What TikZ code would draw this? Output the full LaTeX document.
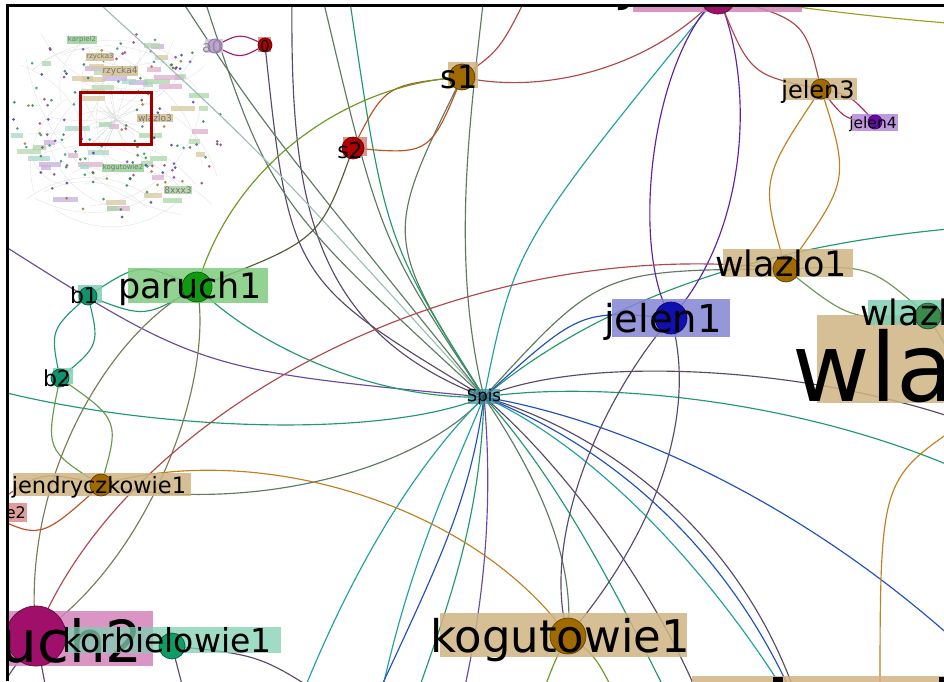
\documentclass[tikz,border=0pt]{standalone}
\usepackage{fontspec}
\setmainfont{DejaVu Sans}

% Cores dos vertices e caixas
\definecolor{tanbox}{HTML}{CFB482}
\definecolor{brownnode}{HTML}{A06A00}
\definecolor{pinkbox}{HTML}{D483BC}
\definecolor{magnode}{HTML}{A0106A}
\definecolor{greenbox}{HTML}{80CC80}
\definecolor{greennode}{HTML}{109A10}
\definecolor{tealbox}{HTML}{80CFB2}
\definecolor{tealnode}{HTML}{10926E}
\definecolor{bluebox}{HTML}{8484D4}
\definecolor{bluenode}{HTML}{1010B0}
\definecolor{lilabox}{HTML}{B488D8}
\definecolor{lilanode}{HTML}{6A0AAA}
\definecolor{redbox}{HTML}{D88080}
\definecolor{rednode}{HTML}{B00000}
\definecolor{paleviolet}{HTML}{D8C0E8}
\definecolor{violetnode}{HTML}{C0A0D8}
\definecolor{wgreennode}{HTML}{3A8A4A}
\definecolor{spisbox}{HTML}{3A8AA0}
% Cores das arestas
\definecolor{eteal}{HTML}{20A0A0}
\definecolor{egreen}{HTML}{209A6A}
\definecolor{egray}{HTML}{5E7A62}
\definecolor{eltgray}{HTML}{9CC0B8}
\definecolor{eplum}{HTML}{5A4A6A}
\definecolor{eviolet}{HTML}{6A4AA0}
\definecolor{eblue}{HTML}{2050C0}
\definecolor{ered}{HTML}{B04848}
\definecolor{eorange}{HTML}{C08020}
\definecolor{eolive}{HTML}{6A9A20}
\definecolor{erust}{HTML}{C05020}
\definecolor{emag}{HTML}{A0206E}
\definecolor{epurple}{HTML}{6020A0}
\definecolor{edkolive}{HTML}{5A5A30}
\definecolor{eyellow}{HTML}{A0A020}
\definecolor{esage}{HTML}{6A9A50}
% Minimapa
\definecolor{mini0}{HTML}{1A7A4A}
\definecolor{mini1}{HTML}{6A3A9A}
\definecolor{mini2}{HTML}{A07020}
\definecolor{mini3}{HTML}{A0306A}
\definecolor{mini4}{HTML}{30309A}
\definecolor{mini5}{HTML}{209080}
\definecolor{mini6}{HTML}{1A8A3A}
\definecolor{minib0}{HTML}{D8C8A0}
\definecolor{minib1}{HTML}{A8D8A8}
\definecolor{minib2}{HTML}{E0B0D0}
\definecolor{minib3}{HTML}{C8B0E0}
\definecolor{minib4}{HTML}{A8D8C8}
\definecolor{minib5}{HTML}{B8D8B0}

\begin{document}
\begin{tikzpicture}[x=1pt, y=-1pt,
    aresta/.style={line width=1.15pt},
    vert/.style={circle, inner sep=0pt, line width=0.7pt},
    rot/.style={inner sep=0pt, anchor=base},
    caixa/.style={fill opacity=0.85},
    mini/.style={inner sep=0.6pt, text=black!55, font=\fontsize{7}{7}\selectfont}]

    \useasboundingbox (0,0) rectangle (944,681);
    \fill[white] (0,0) rectangle (944,681);

    % Coordenadas dos vertices
    \coordinate (jelentwo) at (718,-4);
    \coordinate (sone) at (462,77);
    \coordinate (stwo) at (353,148);
    \coordinate (azero) at (215,46);
    \coordinate (zero) at (265,45);
    \coordinate (jelenthree) at (821,89);
    \coordinate (jelenfour) at (875,122);
    \coordinate (wlazloone) at (786,269);
    \coordinate (jelenone) at (671,318);
    \coordinate (wlazlotwo) at (928,316);
    \coordinate (spis) at (484,397);
    \coordinate (paruchone) at (197,287);
    \coordinate (bone) at (88,296);
    \coordinate (btwo) at (60,378);
    \coordinate (jendone) at (101,485);
    \coordinate (etwo) at (-15,512);
    \coordinate (paruchtwo) at (36,636);
    \coordinate (korbone) at (172,646);
    \coordinate (kogone) at (568,636);
    \coordinate (bottomnode) at (805,725);

    % Pontas soltas (fora da janela)
    \coordinate (topa) at (90,-5);
    \coordinate (topb) at (178,-5);
    \coordinate (topc) at (203,-5);
    \coordinate (topd) at (292,-5);
    \coordinate (tope) at (322,-5);
    \coordinate (topf) at (349,-5);
    \coordinate (topg) at (484,-5);
    \coordinate (toph) at (530,-10);
    \coordinate (lefta) at (-5,240);
    \coordinate (leftb) at (-5,390);
    \coordinate (righta) at (960,228);
    \coordinate (rightb) at (960,420);
    \coordinate (rightc) at (960,470);
    \coordinate (rightd) at (960,645);
    \coordinate (righte) at (960,370);
    \coordinate (rightf) at (960,24);
    \coordinate (rightg) at (960,425);
    \coordinate (bota) at (300,700);
    \coordinate (botb) at (380,700);
    \coordinate (botc) at (375,700);
    \coordinate (botd) at (415,700);
    \coordinate (bote) at (462,700);
    \coordinate (botf) at (670,700);
    \coordinate (botg) at (700,700);
    \coordinate (both) at (880,700);
    \coordinate (boti) at (540,700);
    \coordinate (botj) at (618,700);
    \coordinate (botk) at (186,700);
    \coordinate (botl) at (330,700);
    \coordinate (botm) at (48,700);
    \coordinate (botn) at (-5,695);

    \begin{scope}
    \clip (8,6) rectangle (944,681);

    % Minimapa
    \pgfmathsetseed{7}
    \foreach \i in {1,...,34} {
        \pgfmathsetmacro\xa{20+rnd*200}
        \pgfmathsetmacro\ya{30+rnd*185}
        \pgfmathsetmacro\xb{20+rnd*200}
        \pgfmathsetmacro\yb{30+rnd*185}
        \draw[gray!22, line width=0.4pt] (\xa,\ya) to[bend left=35] (\xb,\yb);
    }
    \foreach \i in {1,...,26} {
        \pgfmathsetmacro\ang{rnd*360}
        \pgfmathsetmacro\len{12+rnd*28}
        \draw[gray!30, line width=0.3pt] (116,120) -- ++(\ang:\len);
    }
    \foreach \i in {1,...,55} {
        \pgfmathsetmacro\ang{rnd*360}
        \pgfmathsetmacro\rr{sqrt(rnd)}
        \pgfmathsetmacro\larg{8+rnd*18}
        \pgfmathtruncatemacro\cor{mod(\i,6)}
        \fill[minib\cor, fill opacity=0.75] ({108+98*\rr*cos(\ang)},{124+90*\rr*sin(\ang)}) rectangle ++(\larg,5);
    }
    \foreach \i in {1,...,150} {
        \pgfmathsetmacro\ang{rnd*360}
        \pgfmathsetmacro\rr{sqrt(rnd)}
        \pgfmathtruncatemacro\cor{mod(\i,7)}
        \fill[mini\cor, fill opacity=0.8] ({118+108*\rr*cos(\ang)},{122+98*\rr*sin(\ang)}) circle[radius=1.5pt];
    }
    \node[mini, fill=minib1] (mkarpiel) at (82,40) {karpiel2};
    \node[mini, fill=minib0] (mrzyckathree) at (100,57) {rzycka3};
    \node[mini, fill=minib0, font=\fontsize{9}{9}\selectfont] (mrzyckafour) at (120,71) {rzycka4};
    \node[mini, fill=minib0, font=\fontsize{9}{9}\selectfont] (mwlazlo) at (155,118) {wlazlo3};
    \node[mini, fill=minib1] (mkogut) at (123,168) {kogutowie2};
    \node[mini, fill=minib5, font=\fontsize{9}{9}\selectfont] (mxxx) at (178,190) {8xxx3};
    \draw[rednode!90!black, line width=3pt] (80,92) rectangle (151,144);

    % Arestas do Spis
    \draw[aresta, eteal] (spis) .. controls (515,245) .. (jelentwo);
    \draw[aresta, egray] (sone) .. controls (383,237) .. (spis);
    \draw[aresta, egray] (topg) .. controls (470,120) and (450,260) .. (spis);
    \draw[aresta, eplum] (zero) .. controls (290,280) .. (spis);
    \draw[aresta, eplum] (topd) .. controls (290,200) and (310,330) .. (spis);
    \draw[aresta, egray] (topc) .. controls (270,200) .. (spis);
    \draw[aresta, eltgray] (topa) .. controls (260,150) .. (spis);
    \draw[aresta, egray] (topb) .. controls (260,120) .. (spis);
    \draw[aresta, egray] (tope) .. controls (380,240) .. (spis);
    \draw[aresta, egreen] (topf) .. controls (385,240) .. (spis);
    \draw[aresta, eviolet] (lefta) .. controls (200,370) .. (spis);
    \draw[aresta, egreen] (leftb) .. controls (150,430) and (380,440) .. (spis);
    \draw[aresta, egreen] (paruchone) .. controls (260,350) and (380,400) .. (spis);
    \draw[aresta, egray] (jendone) .. controls (250,515) and (420,470) .. (spis);
    \draw[aresta, egreen] (spis) .. controls (600,300) and (760,245) .. (righta);
    \draw[aresta, egray] (spis) .. controls (600,270) .. (wlazloone);
    \draw[aresta, eblue] (spis) .. controls (580,310) .. (jelenone);
    \draw[aresta, eplum] (spis) .. controls (580,355) and (800,365) .. (rightb);
    \draw[aresta, egreen] (spis) .. controls (600,380) and (800,400) .. (rightc);
    \draw[aresta, eblue] (spis) .. controls (620,420) and (800,500) .. (rightd);
    \draw[aresta, eteal] (spis) .. controls (400,480) and (340,600) .. (bota);
    \draw[aresta, eteal] (spis) .. controls (450,480) and (410,560) .. (botb);
    \draw[aresta, eblue] (spis) .. controls (470,500) and (440,560) .. (botc);
    \draw[aresta, egreen] (spis) .. controls (480,520) and (450,600) .. (botd);
    \draw[aresta, eviolet] (spis) .. controls (495,520) and (480,620) .. (bote);
    \draw[aresta, egray] (spis) .. controls (540,480) and (575,560) .. (kogone);
    \draw[aresta, egreen] (spis) .. controls (560,480) and (620,600) .. (botf);
    \draw[aresta, eplum] (spis) .. controls (570,470) and (660,600) .. (botg);
    \draw[aresta, eteal] (spis) .. controls (600,450) and (720,580) .. (bottomnode);
    \draw[aresta, eblue] (spis) .. controls (620,450) and (740,560) .. (bottomnode);
    \draw[aresta, eplum] (spis) .. controls (630,440) and (760,560) .. (bottomnode);

    % Arestas jelen / wlazlo
    \draw[aresta, epurple] (jelentwo) .. controls (650,60) and (630,250) .. (jelenone);
    \draw[aresta, epurple] (jelentwo) .. controls (755,80) and (750,230) .. (jelenone);
    \draw[aresta, ered] (jelentwo) .. controls (750,75) .. (jelenthree);
    \draw[aresta, ered] (jelentwo) .. controls (805,20) .. (jelenthree);
    \draw[aresta, emag!60!ered] (jelenthree) .. controls (850,95) .. (jelenfour);
    \draw[aresta, emag!60!ered] (jelenthree) .. controls (845,120) .. (jelenfour);
    \draw[aresta, eorange] (jelenthree) .. controls (760,180) .. (wlazloone);
    \draw[aresta, eorange] (jelenthree) .. controls (850,180) .. (wlazloone);
    \draw[aresta, esage] (wlazloone) .. controls (870,265) .. (wlazlotwo);
    \draw[aresta, esage] (wlazloone) .. controls (850,320) .. (wlazlotwo);
    \draw[aresta, esage] (wlazlotwo) -- (righte);
    \draw[aresta, eplum] (jelenone) .. controls (600,400) and (540,540) .. (kogone);
    \draw[aresta, eplum] (jelenone) .. controls (700,420) and (650,540) .. (kogone);
    \draw[aresta, eyellow] (jelentwo) .. controls (800,8) and (880,18) .. (rightf);
    \draw[aresta, eorange] (rightg) .. controls (880,480) .. (both);

    % Arestas s1 / s2 / a0
    \draw[aresta, erust] (sone) .. controls (385,85) .. (stwo);
    \draw[aresta, erust] (sone) .. controls (430,155) .. (stwo);
    \draw[aresta, eolive] (sone) .. controls (340,85) and (230,170) .. (paruchone);
    \draw[aresta, edkolive] (stwo) .. controls (320,240) .. (paruchone);
    \draw[aresta, ered] (sone) .. controls (540,95) and (650,70) .. (jelentwo);
    \draw[aresta, ered] (sone) .. controls (500,50) .. (toph);
    \draw[aresta, emag] (azero) .. controls (240,33) .. (zero);
    \draw[aresta, emag] (azero) .. controls (240,59) .. (zero);

    % Arestas paruch / b / jendryczkowie
    \draw[aresta, egreen] (paruchone) .. controls (140,262) .. (bone);
    \draw[aresta, egreen] (paruchone) .. controls (145,318) .. (bone);
    \draw[aresta, egreen] (bone) .. controls (50,330) .. (btwo);
    \draw[aresta, egreen] (bone) .. controls (100,345) .. (btwo);
    \draw[aresta, esage] (btwo) .. controls (45,450) .. (jendone);
    \draw[aresta, esage] (btwo) .. controls (120,420) .. (jendone);
    \draw[aresta, edkolive!80] (paruchone) .. controls (110,330) and (20,480) .. (paruchtwo);
    \draw[aresta, edkolive!80] (paruchone) .. controls (215,380) and (150,560) .. (paruchtwo);
    \draw[aresta, erust] (jendone) .. controls (40,470) .. (etwo);
    \draw[aresta, erust] (jendone) .. controls (40,540) .. (etwo);
    \draw[aresta, eorange] (jendone) .. controls (250,440) and (470,500) .. (kogone);
    \draw[aresta, ered] (paruchtwo) .. controls (120,420) and (450,230) .. (wlazloone);

    % Arestas do rodape
    \draw[aresta, eolive] (kogone) .. controls (555,660) .. (boti);
    \draw[aresta, eolive] (kogone) .. controls (595,655) .. (botj);
    \draw[aresta, eplum] (korbone) -- (botk);
    \draw[aresta, eplum] (korbone) .. controls (260,655) .. (botl);
    \draw[aresta, eplum] (paruchtwo) -- (botm);
    \draw[aresta, eplum] (paruchtwo) -- (botn);

    % Vertices com rotulos
    \fill[pinkbox, caixa] (633,-20) rectangle (802,12);
    \node[vert, minimum size=36pt, fill=magnode, draw=magnode!60!black] (jelentwov) at (jelentwo) {};
    \node[rot, font=\fontsize{63}{63}\selectfont] (jelentwol) at (716,-3) {jelen2};

    \fill[tanbox, caixa] (448,62) rectangle (478,88);
    \node[vert, minimum size=26pt, fill=brownnode, draw=brownnode!60!black] (sonev) at (sone) {};
    \node[rot, font=\fontsize{32}{32}\selectfont] (sonel) at (459,88) {s1};

    \fill[redbox, caixa] (343,137) rectangle (367,156);
    \node[vert, minimum size=22pt, fill=rednode, draw=rednode!60!black] (stwov) at (stwo) {};
    \node[rot, font=\fontsize{22}{22}\selectfont] (stwol) at (350,158) {s2};

    \fill[paleviolet, caixa] (205,39) rectangle (223,53);
    \node[vert, minimum size=14pt, fill=violetnode, draw=violetnode!70!black] (azerov) at (azero) {};
    \node[rot, text=black!45, font=\fontsize{16}{16}\selectfont] (azerol) at (212,52) {a0};

    \fill[redbox, caixa] (258,37) rectangle (271,52);
    \node[vert, minimum size=14pt, fill=rednode, draw=rednode!60!black] (zerov) at (zero) {};
    \node[rot, font=\fontsize{15}{15}\selectfont] (zerol) at (265,51) {0};

    \fill[tanbox, caixa] (783,78) rectangle (857,100);
    \node[vert, minimum size=20pt, fill=brownnode, draw=brownnode!60!black] (jelenthreev) at (jelenthree) {};
    \node[rot, font=\fontsize{24}{24}\selectfont] (jelenthreel) at (818,98) {jelen3};

    \fill[lilabox, caixa] (852,114) rectangle (898,131);
    \node[vert, minimum size=14pt, fill=lilanode, draw=lilanode!60!black] (jelenfourv) at (jelenfour) {};
    \node[rot, font=\fontsize{15.5}{15.5}\selectfont] (jelenfourl) at (873,128) {jelen4};

    \fill[tanbox, caixa] (723,249) rectangle (853,277);
    \node[vert, minimum size=26pt, fill=brownnode, draw=brownnode!60!black] (wlazloonev) at (wlazloone) {};
    \node[rot, font=\fontsize{35}{35}\selectfont] (wlazloonel) at (781,276) {wlazlo1};

    \fill[bluebox, caixa] (612,299) rectangle (730,337);
    \node[vert, minimum size=32pt, fill=bluenode, draw=bluenode!60!black] (jelenonev) at (jelenone) {};
    \node[rot, font=\fontsize{38.5}{38.5}\selectfont] (jelenonel) at (663,332) {jelen1};

    \fill[tanbox, caixa] (817,315) rectangle (960,403);
    \node[rot, font=\fontsize{95}{95}\selectfont] (wlazlothreel) at (971,401) {wlazlo3};

    \fill[tealbox, caixa] (868,300) rectangle (960,325);
    \node[vert, minimum size=26pt, fill=wgreennode, draw=wgreennode!60!black] (wlazlotwov) at (wlazlotwo) {};
    \node[rot, font=\fontsize{35}{35}\selectfont] (wlazlotwol) at (926,325) {wlazlo2};

    \fill[spisbox, fill opacity=0.7] (468,389) rectangle (500,404);
    \node[vert, minimum size=6pt, fill=spisbox!60!black] (spisv) at (spis) {};
    \node[rot, font=\fontsize{16.5}{16.5}\selectfont] (spisl) at (484,401) {Spis};

    \fill[greenbox, caixa] (128,268) rectangle (268,303);
    \node[vert, minimum size=30pt, fill=greennode, draw=greennode!60!black] (paruchonev) at (paruchone) {};
    \node[rot, font=\fontsize{35}{35}\selectfont] (paruchonel) at (190,298) {paruch1};

    \fill[tealbox, caixa] (78,285) rectangle (102,303);
    \node[vert, minimum size=18pt, fill=tealnode, draw=tealnode!60!black] (bonev) at (bone) {};
    \node[rot, font=\fontsize{22}{22}\selectfont] (bonel) at (84,303) {b1};

    \fill[tealbox, caixa] (53,368) rectangle (73,384);
    \node[vert, minimum size=18pt, fill=tealnode, draw=tealnode!60!black] (btwov) at (btwo) {};
    \node[rot, font=\fontsize{22}{22}\selectfont] (btwol) at (57,386) {b2};

    \fill[tanbox, caixa] (13,473) rectangle (191,496);
    \node[vert, minimum size=22pt, fill=brownnode, draw=brownnode!60!black] (jendonev) at (jendone) {};
    \node[rot, font=\fontsize{22.5}{22.5}\selectfont] (jendonel) at (99,493) {jendryczkowie1};

    \fill[redbox!90!white, caixa] (7,503) rectangle (27,522);
    \node[rot, anchor=base east, font=\fontsize{16}{16}\selectfont] (etwol) at (26,518) {e2};

    \fill[pinkbox, caixa] (7,611) rectangle (153,666);
    \node[vert, minimum size=60pt, fill=magnode, draw=magnode!60!black] (paruchtwov) at (paruchtwo) {};
    \node[rot, anchor=base east, font=\fontsize{58}{58}\selectfont] (paruchtwol) at (143,662) {paruch2};

    \fill[tealbox, fill opacity=0.75] (68,627) rectangle (281,653);
    \node[vert, minimum size=26pt, fill=tealnode!90!green, draw=tealnode!60!black] (korbonev) at (korbone) {};
    \node[rot, font=\fontsize{33}{33}\selectfont] (korbonel) at (167,652) {korbielowie1};

    \fill[tanbox, caixa] (440,613) rectangle (687,657);
    \node[vert, minimum size=36pt, fill=brownnode, draw=brownnode!60!black] (kogonev) at (kogone) {};
    \node[rot, font=\fontsize{45}{45}\selectfont] (kogonel) at (560,652) {kogutowie1};

    \fill[tanbox, caixa] (692,676) rectangle (960,700);
    \fill[black] (773,677) rectangle (783,690);
    \fill[black] (939,677) rectangle (950,690);
    \end{scope}

    % Moldura
    \draw[line width=3pt] (7,681) -- (7,5) -- (944,5);
\end{tikzpicture}
\end{document}
